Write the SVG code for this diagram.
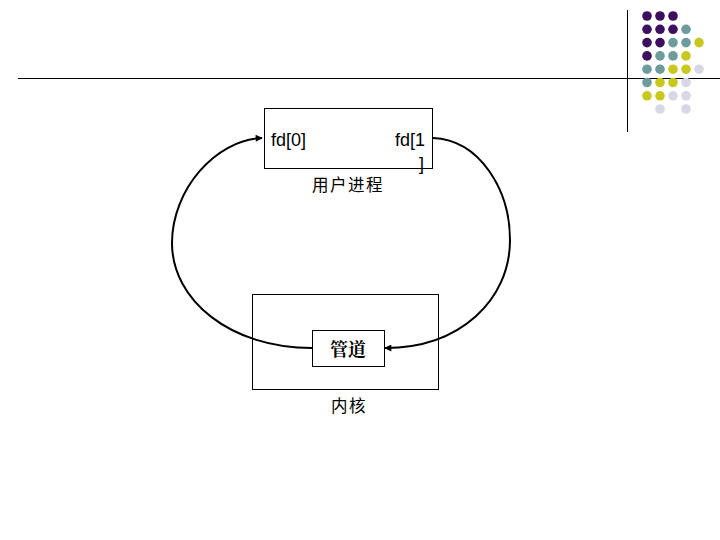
<svg xmlns="http://www.w3.org/2000/svg" width="720" height="540" viewBox="0 0 720 540">
<style>
.box{fill:#fff;stroke:#000;stroke-width:1}
.lbl{font-family:"Liberation Sans",Arial,sans-serif;font-size:18px;fill:#000}
.cjk{font-family:"Noto Sans CJK SC",sans-serif;font-size:16.5px;letter-spacing:1.5px;fill:#000}
.bold{font-family:"Noto Serif CJK SC","Noto Sans CJK SC",serif;font-size:18px;font-weight:bold;fill:#000}
.conn{fill:none;stroke:#000;stroke-width:2}
.p{fill:#3c0f5f}.t{fill:#6e9c9c}.y{fill:#c8c81e}.l{fill:#d7d7e6}
</style>
<defs>
<marker id="arr" viewBox="0 0 10 10" refX="9" refY="5" markerWidth="4" markerHeight="3.5" orient="auto" markerUnits="strokeWidth">
<path d="M0,0 L10,5 L0,10 z" fill="#000"/>
</marker>
</defs>
<rect width="720" height="540" fill="#fff"/>
<g id="decor">
<line x1="18" y1="78.5" x2="720" y2="78.5" stroke="#000" stroke-width="1"/>
<line x1="627.5" y1="10" x2="627.5" y2="132" stroke="#000" stroke-width="1"/>
<g>
<circle class="p" cx="647" cy="16" r="4.8"/><circle class="p" cx="660" cy="16" r="4.8"/><circle class="p" cx="673" cy="16" r="4.8"/>
<circle class="p" cx="647" cy="29.3" r="4.8"/><circle class="p" cx="660" cy="29.3" r="4.8"/><circle class="p" cx="673" cy="29.3" r="4.8"/><circle class="t" cx="686" cy="29.3" r="4.8"/>
<circle class="p" cx="647" cy="42.6" r="4.8"/><circle class="p" cx="660" cy="42.6" r="4.8"/><circle class="t" cx="673" cy="42.6" r="4.8"/><circle class="t" cx="686" cy="42.6" r="4.8"/><circle class="y" cx="699" cy="42.6" r="4.8"/>
<circle class="p" cx="647" cy="55.9" r="4.8"/><circle class="t" cx="660" cy="55.9" r="4.8"/><circle class="t" cx="673" cy="55.9" r="4.8"/><circle class="y" cx="686" cy="55.9" r="4.8"/>
<circle class="t" cx="647" cy="69.2" r="4.8"/><circle class="t" cx="660" cy="69.2" r="4.8"/><circle class="y" cx="673" cy="69.2" r="4.8"/><circle class="y" cx="686" cy="69.2" r="4.8"/><circle class="l" cx="699" cy="69.2" r="4.8"/>
<circle class="t" cx="647" cy="82.5" r="4.8"/><circle class="y" cx="660" cy="82.5" r="4.8"/><circle class="y" cx="673" cy="82.5" r="4.8"/><circle class="l" cx="686" cy="82.5" r="4.8"/>
<circle class="y" cx="647" cy="95.8" r="4.8"/><circle class="y" cx="660" cy="95.8" r="4.8"/><circle class="l" cx="673" cy="95.8" r="4.8"/><circle class="l" cx="686" cy="95.8" r="4.8"/>
<circle class="l" cx="660" cy="109" r="4.8"/><circle class="l" cx="686" cy="109" r="4.8"/>
</g>
</g>
<g id="kernel">
<rect class="box" x="252.5" y="294.5" width="186" height="95"/>
<text class="cjk" x="349" y="412" text-anchor="middle">内核</text>
</g>
<g id="process">
<rect class="box" x="264.5" y="108.5" width="168" height="60"/>
<text class="lbl" x="271" y="146">fd[0]</text>
<text class="lbl" x="395" y="146">fd[1</text>
<text class="lbl" x="419" y="170">]</text>
<text class="cjk" x="348" y="191" text-anchor="middle">用户进程</text>
</g>
<g id="pipe">
<rect class="box" x="312.5" y="330.5" width="72" height="36"/>
<text class="bold" x="348" y="356" text-anchor="middle">管道</text>
</g>
<g id="connectors">
<path class="conn" d="M312,348 C230,348 172,300 172,243 C172,190 215,140 262,138" marker-end="url(#arr)"/>
<path class="conn" d="M433,138 C480,140 510,190 510,240 C510,300 460,348 385,348" marker-end="url(#arr)"/>
</g>
</svg>
